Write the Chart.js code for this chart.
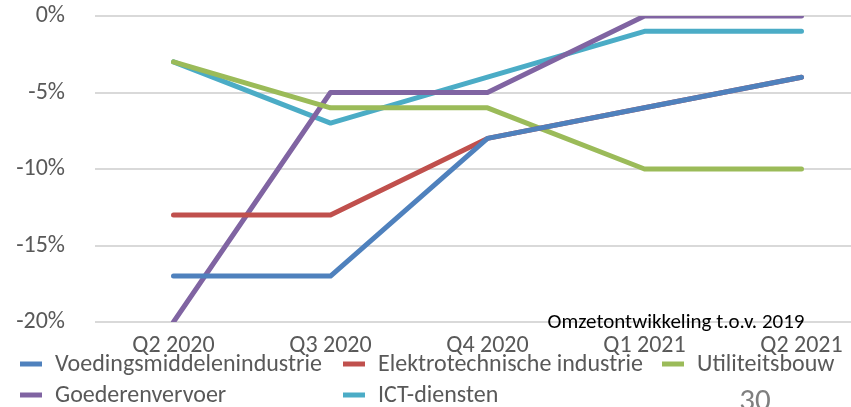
<!DOCTYPE html>
<html>
<head>
<meta charset="utf-8">
<script src="https://cdn.jsdelivr.net/npm/chart.js@4"></script>
<style>
  html, body { margin: 0; padding: 0; background: #fff; overflow: hidden; }
  #wrap { width: 851px; height: 407px; overflow: hidden; position: relative; }
</style>
</head>
<body>
<div id="wrap"><canvas id="omzet" width="880" height="407"></canvas></div>
<script>
// kwartalen
const quarters = ['Q2 2020', 'Q3 2020', 'Q4 2020', 'Q1 2021', 'Q2 2021'];
// omzetontwikkeling in % t.o.v. 2019
const voedingsmiddelen = [-17, -17, -8, -6, -4];
const elektrotechniek = [-13, -13, -8, -6, -4];
const utiliteitsbouw = [-3, -6, -6, -10, -10];
const goederenvervoer = [-20, -5, -5, 0, 0];
const ictDiensten = [-3, -7, -4, -1, -1];
const yTicks = [0, -5, -10, -15, -20];

const FONT = "Carlito, Lato, 'Open Sans', sans-serif";

function serie(label, data, color) {
    return {
        label: label,
        data: data,
        borderColor: color,
        backgroundColor: color,
        borderWidth: 5,
        borderCapStyle: 'round',
        borderJoinStyle: 'round',
        pointRadius: 0,
        tension: 0,
        fill: false
    };
}

// legenda zoals in de dia (twee rijen)
const legendPlugin = {
    id: 'diaLegend',
    afterDraw(chart) {
        const ctx = chart.ctx;
        const spots = [[20, 364], [343, 364], [662, 364], [20, 395], [343, 395]];
        ctx.save();
        ctx.font = '24px ' + FONT;
        ctx.textBaseline = 'middle';
        chart.data.datasets.forEach(function(ds, i) {
            const p = spots[i];
            ctx.strokeStyle = ds.borderColor;
            ctx.lineWidth = 5;
            ctx.beginPath();
            ctx.moveTo(p[0], p[1]);
            ctx.lineTo(p[0] + 22, p[1]);
            ctx.stroke();
            ctx.fillStyle = '#595959';
            ctx.fillText(ds.label, p[0] + 35, p[1] + 1);
        });
        // ondertitel
        ctx.fillStyle = '#000';
        ctx.font = '21px ' + FONT;
        ctx.textAlign = 'center';
        ctx.fillText('Omzetontwikkeling t.o.v. 2019', 676, 323);
        // paginanummer
        ctx.fillStyle = '#7f7f7f';
        ctx.font = '31px ' + FONT;
        ctx.textBaseline = 'alphabetic';
        ctx.fillText('30', 755, 410);
        ctx.restore();
    }
};

new Chart(document.getElementById('omzet'), {
    type: 'line',
    data: {
        labels: quarters,
        datasets: [
            serie('Voedingsmiddelenindustrie', voedingsmiddelen, '#4F81BD'),
            serie('Elektrotechnische industrie', elektrotechniek, '#C0504D'),
            serie('Utiliteitsbouw', utiliteitsbouw, '#9BBB59'),
            serie('Goederenvervoer', goederenvervoer, '#8064A2'),
            serie('ICT-diensten', ictDiensten, '#4BACC6')
        ]
    },
    options: {
        responsive: false,
        animation: false,
        layout: { padding: { top: 16, left: 0, right: 0, bottom: 0 } },
        plugins: {
            legend: { display: false },
            tooltip: { enabled: false }
        },
        scales: {
            x: {
                offset: true,
                grid: { display: false, drawTicks: false },
                border: { display: false },
                ticks: {
                    color: '#595959',
                    font: { family: FONT, size: 24 },
                    padding: 10,
                    maxRotation: 0,
                    autoSkip: false
                },
                afterFit(scale) { scale.height = 85; }
            },
            y: {
                min: -20,
                max: 0,
                afterBuildTicks(scale) {
                    scale.ticks = yTicks.map(function(v) { return { value: v }; });
                },
                grid: { color: '#D9D9D9', lineWidth: 2, drawTicks: false },
                border: { display: false },
                ticks: {
                    color: '#595959',
                    font: { family: FONT, size: 24 },
                    padding: 30,
                    callback: function(v) { return v + '%'; }
                },
                afterFit(scale) {
                    scale.width = 95;
                    scale.paddingTop = 0;
                    scale.paddingBottom = 0;
                }
            }
        }
    },
    plugins: [legendPlugin]
});
</script>
</body>
</html>
